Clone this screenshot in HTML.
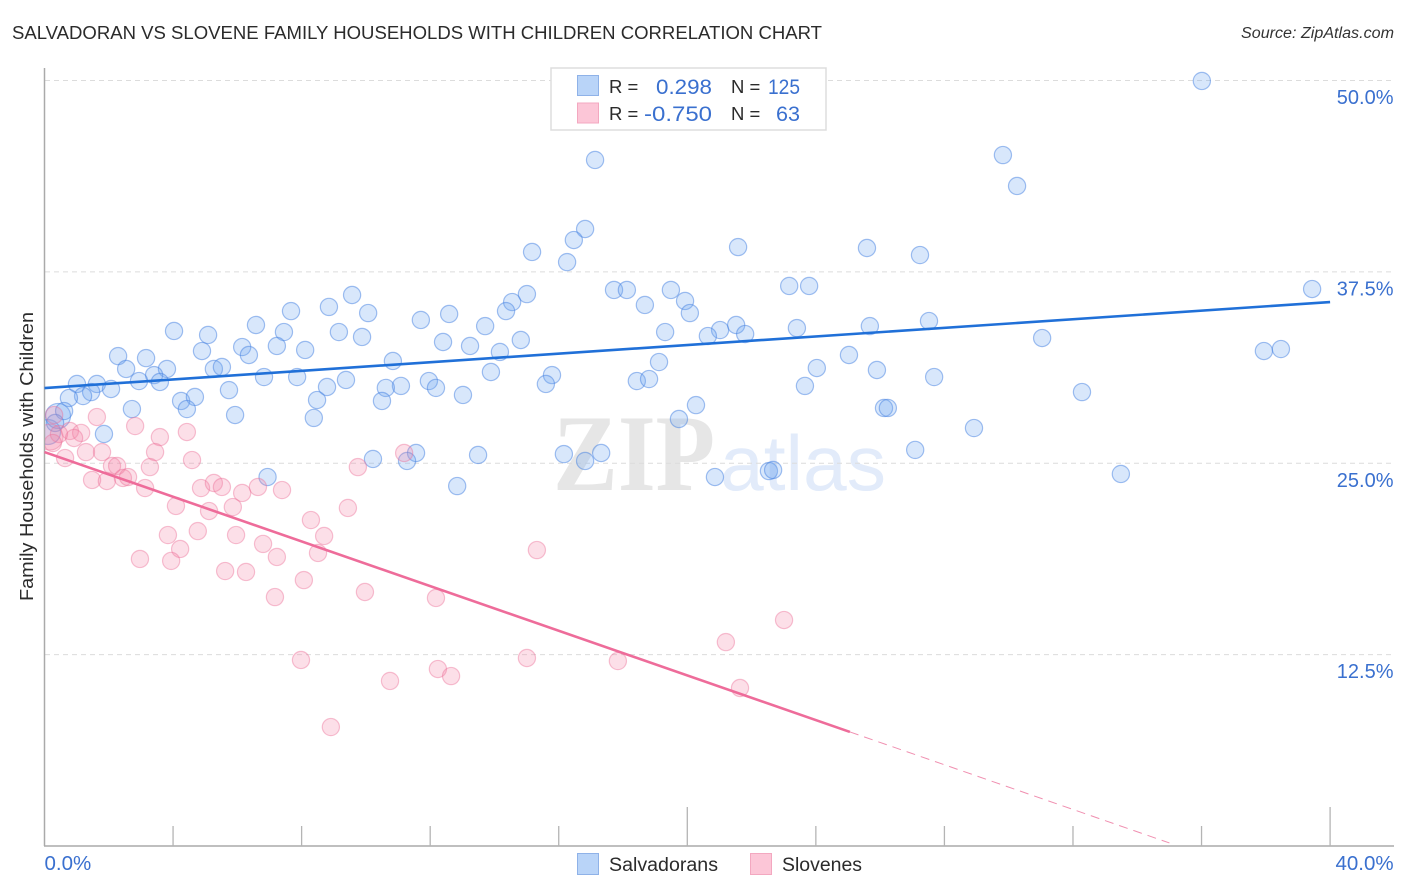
<!DOCTYPE html>
<html lang="en">
<head>
<meta charset="utf-8">
<title>Salvadoran vs Slovene Family Households with Children Correlation Chart</title>
<style>
html,body{margin:0;padding:0;background:#fff;}
svg{display:block;}
text{font-family:"Liberation Sans",sans-serif;}
</style>
</head>
<body>
<svg id="chart" width="1406" height="892" viewBox="0 0 1406 892" xmlns="http://www.w3.org/2000/svg">
  <defs>
    <clipPath id="plot-clip"><rect x="45" y="60" width="1349" height="786"/></clipPath>
  </defs>
  <rect x="0" y="0" width="1406" height="892" fill="#ffffff"/>
  <text x="12" y="39" font-size="18" fill="#2b2b2b" textLength="810" lengthAdjust="spacingAndGlyphs">SALVADORAN VS SLOVENE FAMILY HOUSEHOLDS WITH CHILDREN CORRELATION CHART</text>
  <text x="1241" y="38" font-size="15.5" font-style="italic" fill="#333" textLength="153" lengthAdjust="spacingAndGlyphs">Source: ZipAtlas.com</text>

  <g>
    <text x="553" y="490" font-size="109" font-weight="bold" fill="#e6e6e6" style="font-family:'Liberation Serif',serif" textLength="162" lengthAdjust="spacingAndGlyphs">ZIP</text>
    <text x="720" y="490" font-size="78" fill="#e2ebfa" textLength="166" lengthAdjust="spacingAndGlyphs">atlas</text>
  </g>

  <g id="grid"></g>
  <g id="axes"></g>
  <g id="points" clip-path="url(#plot-clip)"></g>
  <g id="trends"></g>
  <g id="ticklabels"></g>

  <text transform="translate(33,456.5) rotate(-90)" font-size="18.5" fill="#2b2b2b" text-anchor="middle" textLength="289" lengthAdjust="spacingAndGlyphs">Family Households with Children</text>

  <g>
    <rect x="551" y="68" width="275" height="62" fill="#ffffff" stroke="#dddddd" stroke-width="1.5"/>
    <rect x="577.5" y="75.5" width="21" height="20" fill="#b9d4f8" stroke="#8fb2e8" stroke-width="1"/>
    <rect x="577.5" y="103" width="21" height="20" fill="#fcc6d7" stroke="#f3a8c0" stroke-width="1"/>
    <text x="609" y="93" font-size="18.5" fill="#2b2b2b">R =</text>
    <text x="656" y="94" font-size="21" fill="#3a70cf" textLength="56" lengthAdjust="spacingAndGlyphs">0.298</text>
    <text x="731" y="93" font-size="18.5" fill="#2b2b2b">N =</text>
    <text x="768" y="94" font-size="21" fill="#3a70cf" textLength="32" lengthAdjust="spacingAndGlyphs">125</text>
    <text x="609" y="120" font-size="18.5" fill="#2b2b2b">R =</text>
    <text x="644" y="121" font-size="21" fill="#3a70cf" textLength="68" lengthAdjust="spacingAndGlyphs">-0.750</text>
    <text x="731" y="120" font-size="18.5" fill="#2b2b2b">N =</text>
    <text x="776" y="121" font-size="21" fill="#3a70cf" textLength="24" lengthAdjust="spacingAndGlyphs">63</text>
  </g>

  <g>
    <rect x="577.5" y="853.5" width="21" height="21" fill="#b9d4f8" stroke="#8fb2e8" stroke-width="1"/>
    <text x="609" y="871" font-size="19" fill="#2b2b2b" textLength="109" lengthAdjust="spacingAndGlyphs">Salvadorans</text>
    <rect x="750.5" y="853.5" width="21" height="21" fill="#fcc6d7" stroke="#f3a8c0" stroke-width="1"/>
    <text x="782" y="871" font-size="19" fill="#2b2b2b" textLength="80" lengthAdjust="spacingAndGlyphs">Slovenes</text>
  </g>
</svg>
<script>
// Chart data (percent values)
const salvadoranX = [36.01,17.13,29.82,30.26,16.82,16.47,15.17,16.26,21.58,25.59,27.24,39.44,17.72,18.12,19.49,23.17,23.79,15.01,14.55,14.36,18.68,19.93,20.08,9.57,8.85,7.67,10.07,12.59,11.71,6.58,4.03,5.09,7.45,9.16,13.71,9.88,19.31,21.02,21.52,20.64,21.80,23.41,25.68,27.52,31.04,14.82,12.40,13.24,14.17,6.15,7.23,8.11,4.90,6.36,2.29,3.16,10.84,19.12,25.03,37.94,38.47,2.54,3.81,5.27,5.52,3.41,3.59,2.94,6.83,7.86,9.38,13.89,15.79,15.60,11.96,12.18,11.09,10.62,8.79,18.43,18.81,24.03,23.66,25.90,27.68,1.01,1.63,1.45,2.07,1.20,0.76,5.74,4.25,4.68,8.48,10.50,13.02,32.28,4.43,2.72,0.61,5.93,8.38,20.27,19.74,26.12,26.24,0.33,1.85,28.92,10.22,11.56,11.28,13.49,16.16,16.82,17.32,27.09,6.94,20.86,22.54,22.67,33.49,12.84];
const salvadoranY = [49.97,44.81,45.13,43.11,40.30,39.58,38.80,38.14,39.12,39.06,38.60,36.38,36.32,36.32,36.32,36.58,36.58,36.05,35.53,34.94,35.34,35.60,34.81,35.99,35.21,34.94,34.81,34.75,34.36,34.03,33.64,33.38,33.57,33.57,33.96,33.25,33.57,33.70,34.03,33.31,33.44,33.83,33.96,34.29,33.18,33.05,32.92,32.66,32.27,32.59,32.66,32.40,32.33,32.07,32.00,31.87,31.68,31.61,32.07,32.33,32.46,31.16,31.16,31.16,31.29,30.76,30.31,30.37,30.63,30.63,30.44,30.96,30.76,30.18,30.37,29.92,30.05,29.92,29.98,30.37,30.50,31.22,30.05,31.09,30.63,30.18,30.18,29.65,29.85,29.39,29.26,29.78,29.07,29.33,29.13,29.07,29.46,29.65,28.54,28.54,28.41,28.15,27.96,28.80,27.89,28.61,28.61,27.63,26.91,27.30,25.28,25.67,25.15,25.54,25.60,25.15,25.67,25.87,24.10,24.10,24.49,24.56,24.30,23.51];
const salvadoranLargeX = [0.11,0.42];
const salvadoranLargeY = [27.04,28.09];
const sloveneX = [0.30,1.63,2.82,0.79,1.14,0.92,0.45,0.26,4.43,3.59,0.64,1.29,1.79,3.44,4.59,11.19,2.10,2.26,3.28,9.75,1.48,1.94,2.44,2.60,3.13,4.87,5.27,5.52,6.64,7.39,6.15,4.09,5.12,5.86,9.44,8.29,3.84,4.77,5.96,8.70,6.80,4.22,15.32,8.51,7.23,2.97,3.94,5.62,6.27,8.07,9.97,7.17,12.18,23.01,21.20,7.98,15.01,17.84,12.24,12.65,10.75,21.64,8.91];
const sloveneY = [28.15,28.02,27.43,27.11,26.98,26.65,26.91,26.32,27.04,26.71,25.34,25.73,25.73,25.73,25.21,25.67,24.82,24.82,24.75,24.75,23.91,23.84,24.04,24.10,23.38,23.38,23.71,23.45,23.45,23.25,23.06,22.21,21.88,22.14,22.08,21.29,20.31,20.57,20.31,20.25,19.73,19.40,19.33,19.14,18.88,18.75,18.62,17.96,17.90,17.37,16.59,16.26,16.20,14.76,13.32,12.15,12.28,12.08,11.56,11.10,10.78,10.32,7.77];
const sloveneLargeX = [0.17];
const sloveneLargeY = [26.71];
const salvadoranTrend = [29.91,35.53];       // value at x=0 and at x=40
const sloveneTrend = [25.73,7.45];           // value at x=0 and at x=sloveneSolidEnd
const sloveneSolidEnd = [25.06];
const sloveneDashEnd = [35.0];
const yTickValues = [50,37.5,25,12.5];
const yTickLabels = ["50.0%","37.5%","25.0%","12.5%"];
const xTickValues = [4,8,12,16,20,24,28,32,36,40];
const xMajorTicks = [20,40];
const xEdgeValues = [0,40];
const xEdgeLabels = ["0.0%","40.0%"];

// Axis functions
function xScale(v){ return 44.5 + v * 32.14; }
function yScale(v){ return 846 - v * 15.31; }

const NS = 'http://www.w3.org/2000/svg';
function make(tag, attrs, parent){
  const el = document.createElementNS(NS, tag);
  for (const k in attrs) el.setAttribute(k, attrs[k]);
  parent.appendChild(el);
  return el;
}
const grid = document.getElementById('grid');
const axes = document.getElementById('axes');
const points = document.getElementById('points');
const trends = document.getElementById('trends');
const ticklabels = document.getElementById('ticklabels');

yTickValues.forEach(function(v, i){
  const line = make('line', {x1:45, x2:1394, y1:yScale(v), y2:yScale(v), stroke:'#dcdcdc', 'stroke-width':1, 'stroke-dasharray':'5 4'}, grid);
  
  
  const label = make('text', {x:1393.5, y:yScale(v)+23.5, 'font-size':20, fill:'#3a70cf', 'text-anchor':'end'}, ticklabels);
  
  
  label.textContent = yTickLabels[i];
});

const xAxisLine = make('line', {x1:44, x2:1394, y1:846, y2:846, stroke:'#aaaaaa', 'stroke-width':1.5}, axes);


const yAxisLine = make('line', {x1:44.5, x2:44.5, y1:68, y2:846, stroke:'#aaaaaa', 'stroke-width':1.5}, axes);



xTickValues.forEach(function(v){
  const top = xMajorTicks.indexOf(v) >= 0 ? 807 : 826;
  const tick = make('line', {x1:xScale(v), x2:xScale(v), y1:top, y2:846, stroke:'#b4b4b4', 'stroke-width':1.3}, axes);
  
  
});

xEdgeValues.forEach(function(v, i){
  const anchor = i === 0 ? 'start' : 'end';
  const px = i === 0 ? xScale(v) : xScale(v) + 63.5;
  const label = make('text', {x:px, y:870, 'font-size':20.5, fill:'#3a70cf', 'text-anchor':anchor}, ticklabels);
  
  
  label.textContent = xEdgeLabels[i];
});

function drawSeries(xs, ys, radius, fill, stroke, name){
  xs.forEach(function(x, i){
    const c = make('circle', {cx:xScale(x), cy:yScale(ys[i]), r:radius, fill:fill, stroke:stroke, 'stroke-width':1.2}, points);
    
    
  });
}
const blueFill = 'rgba(110,165,240,0.27)', blueStroke = 'rgba(70,130,225,0.5)';
const pinkFill = 'rgba(245,130,165,0.26)', pinkStroke = 'rgba(235,110,150,0.42)';
drawSeries(salvadoranLargeX, salvadoranLargeY, 12.5, blueFill, blueStroke, 'salvadoran-point-large');
drawSeries(salvadoranX, salvadoranY, 8.6, blueFill, blueStroke, 'salvadoran-point');
drawSeries(sloveneLargeX, sloveneLargeY, 13, pinkFill, pinkStroke, 'slovene-point-large');
drawSeries(sloveneX, sloveneY, 8.6, pinkFill, pinkStroke, 'slovene-point');

const blueLine = make('line', {x1:xScale(0), y1:yScale(salvadoranTrend[0]), x2:xScale(40), y2:yScale(salvadoranTrend[1]), stroke:'#2070d8', 'stroke-width':2.6}, trends);



const pinkSlope = (sloveneTrend[1] - sloveneTrend[0]) / sloveneSolidEnd[0];
const pinkLine = make('line', {x1:xScale(0), y1:yScale(sloveneTrend[0]), x2:xScale(sloveneSolidEnd[0]), y2:yScale(sloveneTrend[1]), stroke:'#ee6c9a', 'stroke-width':2.6}, trends);


const pinkDash = make('line', {x1:xScale(sloveneSolidEnd[0]), y1:yScale(sloveneTrend[1]), x2:xScale(sloveneDashEnd[0]), y2:yScale(sloveneTrend[0] + pinkSlope * sloveneDashEnd[0]), stroke:'#f08fb0', 'stroke-width':1, 'stroke-dasharray':'9 6'}, trends);


</script>
</body>
</html>
